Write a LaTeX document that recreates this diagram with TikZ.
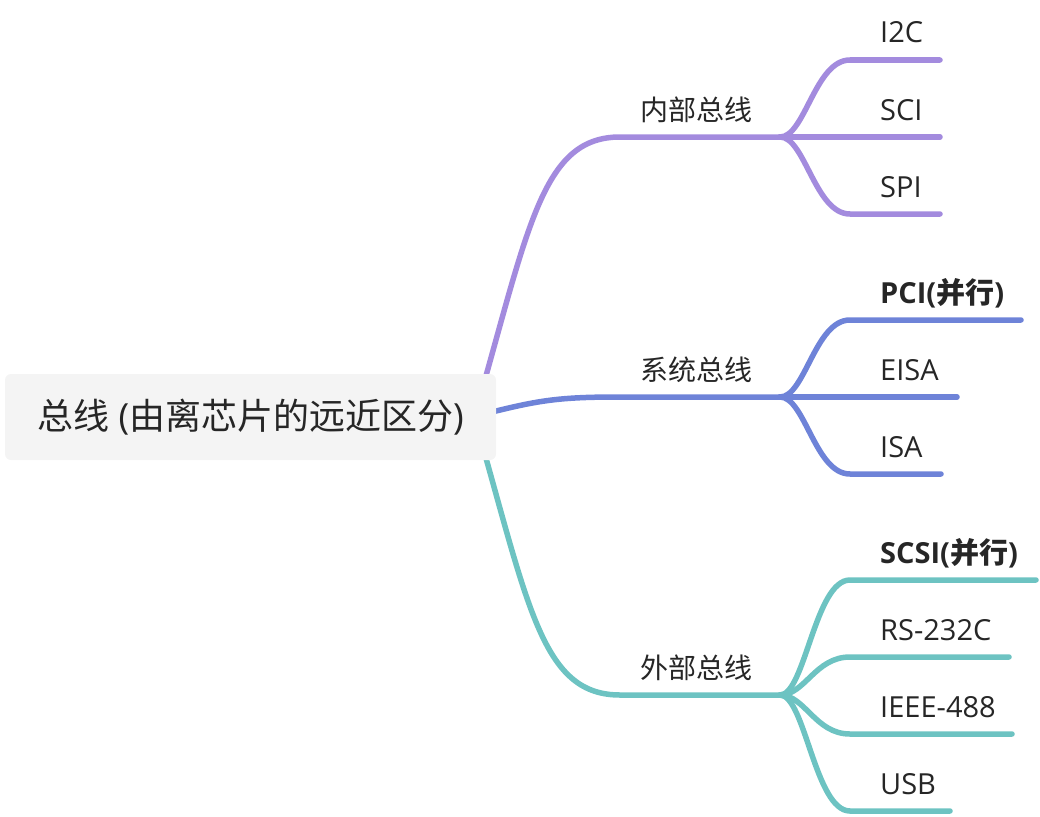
\documentclass[tikz,border=0pt]{standalone}
\usepackage{fontspec}
\setmainfont{Open Sans}
\newfontfamily\cjk{Noto Sans CJK SC}

\definecolor{innerc}{HTML}{A38BDE}
\definecolor{sysc}{HTML}{6E83D8}
\definecolor{extc}{HTML}{6DC3C2}
\definecolor{rootfill}{HTML}{F4F4F4}
\definecolor{txt}{HTML}{262626}

\begin{document}
\begin{tikzpicture}[x=1pt,y=-1pt,
  branch/.style={line width=5.5pt,line cap=round},
  lbl/.style={anchor=base west,inner sep=0pt,text=txt,font=\fontsize{29}{33}\selectfont}]
\useasboundingbox (0,0) rectangle (1040,816);

% junctions and line ends
\coordinate (innerJ) at (780,137);
\coordinate (sysJ) at (780,397);
\coordinate (extJ) at (780,695);

\coordinate (i2cS) at (850,60);   \coordinate (i2cE) at (940,60);
\coordinate (sciE) at (940,137);
\coordinate (spiS) at (850,214);  \coordinate (spiE) at (940,214);
\coordinate (pciS) at (850,320);  \coordinate (pciE) at (1021,320);
\coordinate (eisaE) at (957,397);
\coordinate (isaS) at (850,474);  \coordinate (isaE) at (941,474);
\coordinate (scsiS) at (850,580); \coordinate (scsiE) at (1036,580);
\coordinate (rsS) at (850,657);   \coordinate (rsE) at (1009,657);
\coordinate (ieeeS) at (850,734); \coordinate (ieeeE) at (1012,734);
\coordinate (usbS) at (850,811);  \coordinate (usbE) at (950,811);

% main branches
\draw[branch,innerc] (482,390) .. controls (530,220) and (545,137) .. (620,137) -- (innerJ);
\draw[branch,sysc] (488,413) .. controls (540,400) and (560,397) .. (620,397) -- (sysJ);
\draw[branch,extc] (482,444) .. controls (530,614) and (545,695) .. (620,695) -- (extJ);

\node[fill=rootfill,rounded corners=6pt,minimum width=491pt,minimum height=86pt,inner sep=0pt,
  text=txt,font=\fontsize{36}{42}\selectfont] (root) at (250.5,417)
  {{\cjk 总线} ({\cjk 由离芯片的远近区分})};

% level 1
\node[lbl,font=\cjk\fontsize{28}{32}\selectfont] (inner) at (640,120) {内部总线};
\node[lbl,font=\cjk\fontsize{28}{32}\selectfont] (sys) at (640,380) {系统总线};
\node[lbl,font=\cjk\fontsize{28}{32}\selectfont] (ext) at (640,678) {外部总线};

% inner bus
\draw[branch,innerc] (innerJ) .. controls +(25,0) and +(-35,0) .. (i2cS) -- (i2cE);
\draw[branch,innerc] (innerJ) -- (sciE);
\draw[branch,innerc] (innerJ) .. controls +(25,0) and +(-35,0) .. (spiS) -- (spiE);
\node[lbl] (i2c) at (880,43) {I2C};
\node[lbl] (sci) at (880,120) {SCI};
\node[lbl] (spi) at (880,197) {SPI};

% system bus
\draw[branch,sysc] (sysJ) .. controls +(25,0) and +(-35,0) .. (pciS) -- (pciE);
\draw[branch,sysc] (sysJ) -- (eisaE);
\draw[branch,sysc] (sysJ) .. controls +(25,0) and +(-35,0) .. (isaS) -- (isaE);
\node[lbl] (pci) at (880,303) {\textbf{PCI(}{\cjk\bfseries 并行}\textbf{)}};
\node[lbl] (eisa) at (880,380) {EISA};
\node[lbl] (isa) at (880,457) {ISA};

% external bus
\draw[branch,extc] (extJ) .. controls +(25,0) and +(-35,0) .. (scsiS) -- (scsiE);
\draw[branch,extc] (extJ) .. controls +(25,0) and +(-35,0) .. (rsS) -- (rsE);
\draw[branch,extc] (extJ) .. controls +(25,0) and +(-35,0) .. (ieeeS) -- (ieeeE);
\draw[branch,extc] (extJ) .. controls +(25,0) and +(-35,0) .. (usbS) -- (usbE);
\node[lbl] (scsi) at (880,563) {\textbf{SCSI(}{\cjk\bfseries 并行}\textbf{)}};
\node[lbl] (rs) at (880,640) {RS-232C};
\node[lbl] (ieee) at (880,717) {IEEE-488};
\node[lbl] (usb) at (880,794) {USB};
\end{tikzpicture}
\end{document}
